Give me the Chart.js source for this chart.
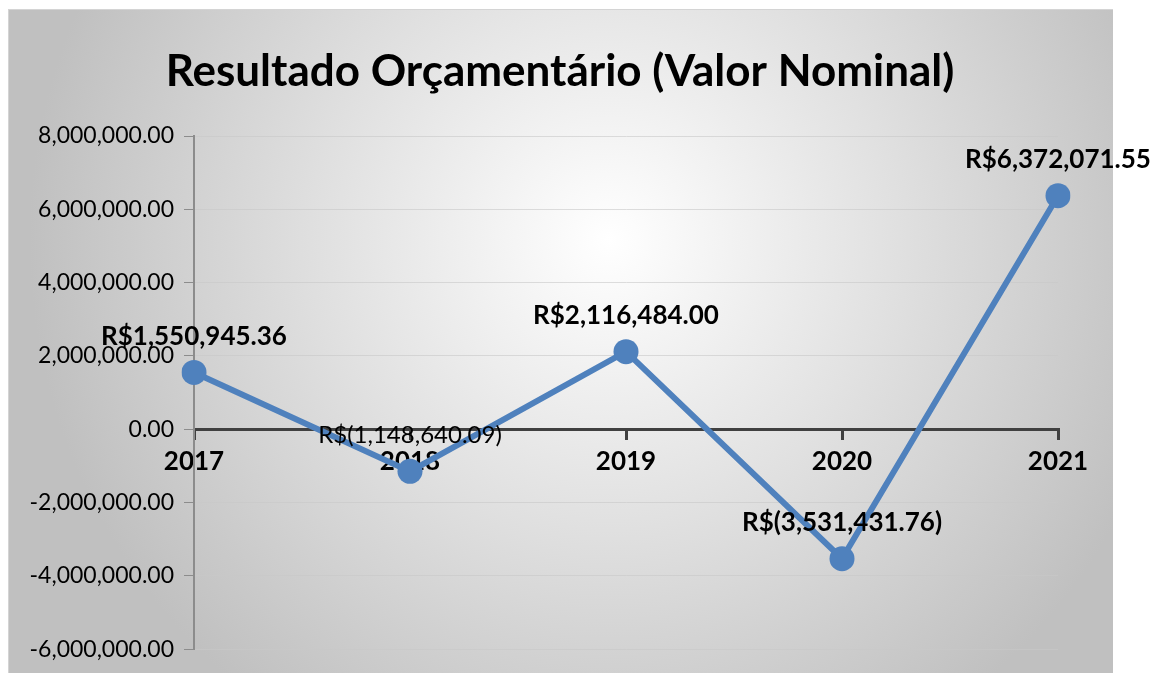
<!DOCTYPE html>
<html>
<head>
<meta charset="utf-8">
<script src="https://cdn.jsdelivr.net/npm/chart.js@4"></script>
<style>
    html, body { margin: 0; padding: 0; background: #fff; }
    #moldura {
        position: absolute; left: 8px; top: 9px; width: 1104px; height: 664px;
        background: radial-gradient(circle 580px at 600px 230px, #ffffff 0%, #e0e0e0 50%, #c0c0c0 100%);
        border-top: 1px solid #d4d4d4; border-left: 1px solid #d4d4d4;
    }
    #grafico { position: absolute; left: 0; top: 0; }
</style>
</head>
<body>
<div id="moldura"></div>
<canvas id="grafico" width="1154" height="673"></canvas>
<script>
// Resultado orçamentário por ano
const titulo = 'Resultado Orçamentário (Valor Nominal)';
const anos = ['2017', '2018', '2019', '2020', '2021'];
const resultado = [1550945.36, -1148640.09, 2116484.00, -3531431.76, 6372071.55];
const eixoY = { min: -6000000, max: 8000000, passo: 2000000 };

const fonte = 'Lato, "Open Sans", sans-serif';

function formatarNumero(v) {
    return v.toLocaleString('en-US', { minimumFractionDigits: 2, maximumFractionDigits: 2 });
}

function formatarReal(v) {
    const txt = formatarNumero(Math.abs(v));
    return v < 0 ? 'R$(' + txt + ')' : 'R$' + txt;
}

// título centralizado na moldura (e não na área do gráfico)
const tituloPlugin = {
    id: 'tituloMoldura',
    afterDraw(chart) {
        const ctx = chart.ctx;
        ctx.save();
        ctx.fillStyle = '#000';
        ctx.font = 'bold 44px ' + fonte;
        ctx.textAlign = 'center';
        ctx.textBaseline = 'middle';
        ctx.fillText(titulo, 560, 72);
        ctx.restore();
    }
};

// desenha os rótulos de dados acima de cada ponto
const rotulosPlugin = {
    id: 'rotulos',
    afterDatasetsDraw(chart) {
        const ctx = chart.ctx;
        const meta = chart.getDatasetMeta(0);
        ctx.save();
        ctx.fillStyle = '#000';
        ctx.textAlign = 'center';
        ctx.textBaseline = 'middle';
        meta.data.forEach((pt, i) => {
            // o rótulo de 2018 não está em negrito no original
            ctx.font = i === 1 ? '24px ' + fonte : 'bold 26px ' + fonte;
            ctx.fillText(formatarReal(resultado[i]), pt.x, pt.y - 36);
        });
        ctx.restore();
    }
};

new Chart(document.getElementById('grafico'), {
    type: 'line',
    data: {
        labels: anos,
        datasets: [{
            data: resultado,
            borderColor: '#4f81bd',
            backgroundColor: '#4f81bd',
            borderWidth: 6,
            pointRadius: 12.5,
            pointHoverRadius: 12.5,
            pointBackgroundColor: '#4f81bd',
            pointBorderWidth: 0,
            tension: 0
        }]
    },
    options: {
        responsive: false,
        animation: false,
        layout: { padding: { left: 0, right: 96, top: 136, bottom: 16 } },
        plugins: {
            legend: { display: false },
            tooltip: { enabled: false },
            title: { display: false }
        },
        scales: {
            x: {
                position: { y: 0 },
                offset: false,
                border: { color: '#404040', width: 3 },
                grid: { drawOnChartArea: false, drawTicks: true, tickLength: 9, color: '#404040', lineWidth: 3 },
                ticks: { color: '#000', padding: 8, font: { family: fonte, size: 26, weight: 'bold' } }
            },
            y: {
                min: eixoY.min,
                max: eixoY.max,
                afterFit(scale) { scale.width = 194; },
                border: { color: '#8c8c8c', width: 2 },
                grid: { color: 'rgba(200,200,200,0.6)', lineWidth: 1, tickLength: 10, tickColor: '#8c8c8c' },
                ticks: {
                    stepSize: eixoY.passo,
                    color: '#000',
                    padding: 10,
                    font: { family: fonte, size: 23 },
                    callback: v => formatarNumero(v)
                }
            }
        }
    },
    plugins: [rotulosPlugin, tituloPlugin]
});
</script>
</body>
</html>
